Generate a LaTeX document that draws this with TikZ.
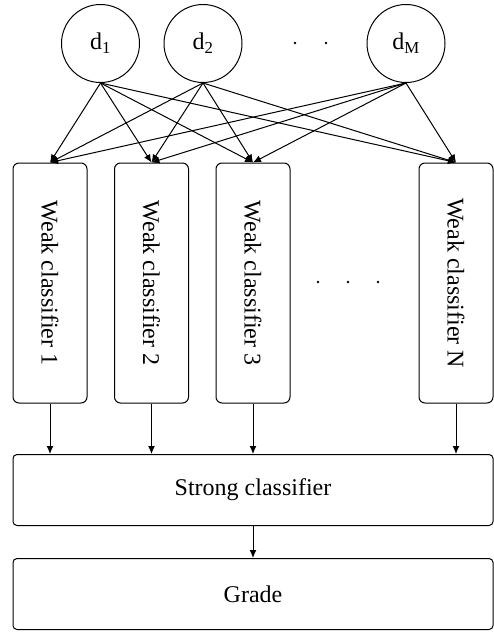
\documentclass[tikz,border=0pt]{standalone}
\usepackage{fontspec}
\setmainfont{Liberation Serif}
\usetikzlibrary{arrows.meta}

\tikzset{
  datanode/.style={draw, circle, minimum size=78pt, inner sep=0pt},
  weakbox/.style={draw, rounded corners=6pt, minimum width=74pt, minimum height=240pt, inner sep=0pt},
  widebox/.style={draw, rounded corners=4pt, minimum width=480pt, minimum height=71pt, inner sep=0pt},
  link/.style={-{Latex[length=8pt,width=7pt]}},
}

\begin{document}
\begin{tikzpicture}[x=1pt, y=-1pt, line width=1pt, font=\fontsize{24}{28}\selectfont]
    \useasboundingbox (0,0) rectangle (494,632);

    \node[datanode] (d1) at (100.5,43.5) {d\textsubscript{1}};
    \node[datanode] (d2) at (203,43.5) {d\textsubscript{2}};
    \node[datanode] (dM) at (406,43.5) {d\textsubscript{M}};

    \node[weakbox] (w1) at (50,283) {\rotatebox{-90}{Weak classifier 1}};
    \node[weakbox] (w2) at (151.5,283) {\rotatebox{-90}{Weak classifier 2}};
    \node[weakbox] (w3) at (253,283) {\rotatebox{-90}{Weak classifier 3}};
    \node[weakbox] (wN) at (456,283) {\rotatebox{-90}{Weak classifier N}};

    \node[widebox] (strong) at (253,490) {Strong classifier};
    \node[widebox] (grade) at (253,594) {Grade};

    % dots between the inputs and between the classifiers
    \foreach \x in {295,326} \fill (\x,43) circle (1.4pt);
    \foreach \x in {318,348,378} \fill (\x,282) circle (1.4pt);

    \foreach \d in {d1,d2,dM}
      \foreach \w in {w1,w2,w3,wN}
        \draw[link] (\d.south) -- (\w.north);

    \foreach \w in {w1,w2,w3,wN}
      \draw[link] (\w.south) -- (\w.south |- strong.north);
    \draw[link] (strong.south) -- (grade.north);

\end{tikzpicture}
\end{document}
